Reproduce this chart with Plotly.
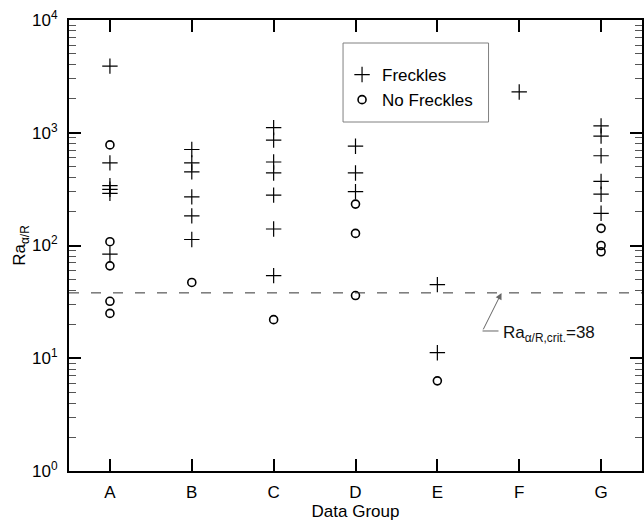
import math
import plotly.graph_objects as go

# ---- data ----
groups = ["A", "B", "C", "D", "E", "F", "G"]

freckle_group = ["A"] * 6 + ["B"] * 6 + ["C"] * 7 + ["D"] * 3 + ["E"] * 2 + ["F"] + ["G"] * 6
freckle_value = [3900, 540, 340, 315, 290, 84,
                 710, 540, 450, 270, 183, 113,
                 1110, 860, 550, 440, 280, 140, 54,
                 760, 440, 300,
                 45, 11.2,
                 2300,
                 1150, 935, 625, 370, 285, 193]

nofreckle_group = ["A"] * 5 + ["B"] + ["C"] + ["D"] * 3 + ["E"] + ["G"] * 3
nofreckle_value = [780, 108, 66, 32, 25,
                   47,
                   22,
                   233, 128, 36,
                   6.3,
                   142, 100, 88]

ra_crit = 38
y_exponents = [0, 1, 2, 3, 4]
y_tick_vals = [10 ** e for e in y_exponents]
y_tick_text = ["10<sup>%d</sup>" % e for e in y_exponents]
y_minor_vals = [m * 10 ** e for e in y_exponents[:-1] for m in range(2, 10)]

FONT = "Liberation Sans, Arial, sans-serif"

fig = go.Figure()
fig.add_trace(go.Scatter(
    x=freckle_group, y=freckle_value, mode="markers", name="Freckles",
    marker=dict(symbol="cross-thin-open", size=11, color="black",
                line=dict(color="black", width=1.2)),
))
fig.add_trace(go.Scatter(
    x=nofreckle_group, y=nofreckle_value, mode="markers", name="No Freckles",
    marker=dict(symbol="circle-open", size=8, color="black",
                line=dict(color="black", width=1.6)),
))
# empty traces so the minor-tick overlay axes are drawn
fig.add_trace(go.Scatter(x=[], y=[], yaxis="y2", showlegend=False, hoverinfo="skip"))
fig.add_trace(go.Scatter(x=[], y=[], yaxis="y3", showlegend=False, hoverinfo="skip"))

# critical Ra line
fig.add_shape(type="line", xref="x", yref="y", x0=-0.5, x1=6.5, y0=ra_crit, y1=ra_crit,
              line=dict(color="#333333", width=1, dash="10px,12px"))

# pointer for the label
fig.add_shape(type="line", xref="x", yref="y", x0=4.552, x1=4.747, y0=17.45, y1=17.45,
              line=dict(color="#666666", width=1))
fig.add_annotation(x=4.784, y=math.log10(ra_crit), xref="x", yref="y", text="",
                   showarrow=True, ax=-19, ay=38, arrowhead=2, arrowsize=1.3,
                   arrowwidth=1, arrowcolor="#666666")
fig.add_annotation(x=4.78, y=1.215, xref="x", yref="y", xanchor="left", yanchor="middle",
                   text="Ra<sub>α/R,crit.</sub>=38", showarrow=False,
                   font=dict(family=FONT, size=17, color="#111111"))

# legend box
fig.add_shape(type="rect", xref="paper", yref="paper",
              x0=(344 - 69) / 575, x1=(490 - 69) / 575,
              y0=(471 - 122) / 451, y1=(471 - 43) / 451,
              line=dict(color="#808080", width=1), fillcolor="rgba(0,0,0,0)")

minor_axis = dict(
    type="log", range=[0, 4], overlaying="y", anchor="x",
    tickmode="array", tickvals=y_minor_vals,
    ticks="inside", ticklen=7, tickwidth=1, tickcolor="#555555",
    showticklabels=False, showline=False, showgrid=False, zeroline=False,
)

fig.update_layout(
    width=644, height=525,
    margin=dict(l=69, r=0, t=20, b=54),
    paper_bgcolor="white", plot_bgcolor="white",
    font=dict(family=FONT, size=17, color="black"),
    showlegend=True,
    legend=dict(x=(343 - 69) / 575, y=(471 - 57) / 451, xanchor="left", yanchor="top",
                bgcolor="rgba(0,0,0,0)", borderwidth=0,
                font=dict(family=FONT, size=17, color="black"),
                tracegroupgap=0),
    xaxis=dict(
        type="category", categoryorder="array", categoryarray=groups,
        range=[-0.5, 6.5], showgrid=False, zeroline=False,
        showline=True, linecolor="black", linewidth=2, mirror="ticks",
        ticks="inside", ticklen=12, tickwidth=2, tickcolor="black",
        ticklabelstandoff=5,
        tickfont=dict(family=FONT, size=17, color="black"),
        title=dict(text="Data Group", font=dict(family=FONT, size=17, color="black"),
                   standoff=0),
    ),
    yaxis=dict(
        type="log", range=[0, 4], tickmode="array",
        tickvals=y_tick_vals, ticktext=y_tick_text,
        showgrid=False, zeroline=False,
        showline=True, linecolor="black", linewidth=2, mirror="ticks",
        ticks="inside", ticklen=12, tickwidth=2, tickcolor="black",
        ticklabelstandoff=6,
        tickfont=dict(family=FONT, size=17, color="black"),
        title=dict(text="Ra<sub>α/R</sub>", font=dict(family=FONT, size=17, color="black"),
                   standoff=2),
    ),
    yaxis2=dict(minor_axis, side="left"),
    yaxis3=dict(minor_axis, side="right"),
)

fig.write_html("out.html")
